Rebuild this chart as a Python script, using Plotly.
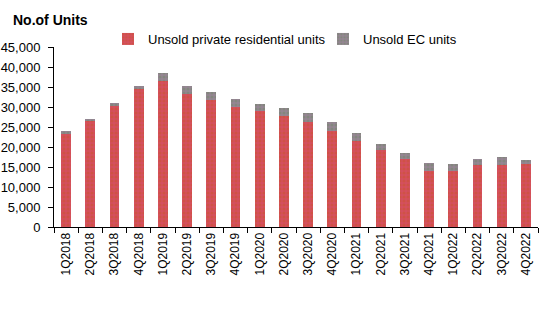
import plotly.graph_objects as go

quarters = ["1Q2018", "2Q2018", "3Q2018", "4Q2018",
            "1Q2019", "2Q2019", "3Q2019", "4Q2019",
            "1Q2020", "2Q2020", "3Q2020", "4Q2020",
            "1Q2021", "2Q2021", "3Q2021", "4Q2021",
            "1Q2022", "2Q2022", "3Q2022", "4Q2022"]
private_units = [23330, 26650, 30330, 34500,
                 36400, 33300, 31750, 29900,
                 29000, 27750, 26330, 24000,
                 21500, 19170, 16920, 14080,
                 13920, 15420, 15420, 15830]
ec_units = [670, 150, 670, 750,
            2100, 1950, 2000, 2100,
            1750, 2000, 2170, 2250,
            2000, 1680, 1500, 1840,
            1750, 1660, 2000, 840]

font_family = "Arial, Liberation Sans, sans-serif"

fig = go.Figure()
fig.add_trace(go.Bar(
    x=quarters, y=private_units, name="Unsold private residential units",
    marker=dict(color="#d44f5e", line=dict(width=0),
                pattern=dict(shape=".", fgcolor="#c9552e", size=4, solidity=0.5)),
))
fig.add_trace(go.Bar(
    x=quarters, y=ec_units, name="Unsold EC units",
    marker=dict(color="#958593", line=dict(width=0),
                pattern=dict(shape=".", fgcolor="#72886a", size=4, solidity=0.5)),
))

fig.update_layout(
    barmode="stack",
    bargap=0.6,
    width=550, height=317,
    margin=dict(l=54, r=12, t=47, b=90, autoexpand=False),
    paper_bgcolor="white", plot_bgcolor="white",
    font=dict(family=font_family, size=13, color="black"),
    showlegend=True,
    legend=dict(orientation="h", xref="container", yref="container",
                x=108 / 550, xanchor="left", y=1 - 39 / 317, yanchor="middle",
                font=dict(size=13), entrywidth=170, entrywidthmode="pixels",
                itemwidth=30, bgcolor="rgba(0,0,0,0)", traceorder="normal"),
)
fig.add_annotation(text="<b>No.of Units</b>", xref="paper", yref="paper",
                   x=(11 - 54) / 484, y=(227 - 20) / 180, xanchor="left", yanchor="middle",
                   showarrow=False, font=dict(size=14))

fig.update_yaxes(range=[0, 45000], dtick=5000, tickformat=",", showgrid=False,
                 showline=True, linecolor="black", linewidth=1,
                 ticks="outside", ticklen=5, tickcolor="black",
                 ticklabelstandoff=5,
                 tickfont=dict(size=13), zeroline=False)
fig.update_xaxes(showgrid=False, showline=True, linecolor="black", linewidth=1,
                 ticks="outside", ticklen=5, tickcolor="black", tickson="boundaries",
                 tickangle=-90, tickfont=dict(size=12))

fig.write_html("out.html")
